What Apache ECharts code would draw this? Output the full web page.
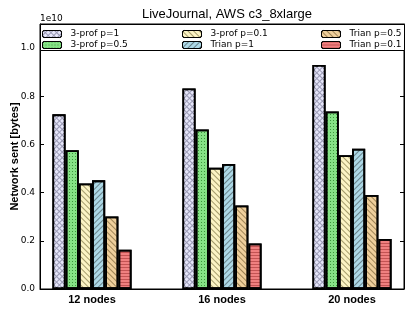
<!DOCTYPE html>
<html>
<head>
<meta charset="utf-8">
<script src="https://cdn.jsdelivr.net/npm/echarts@6/dist/echarts.min.js"></script>
<style>html,body{margin:0;padding:0;background:#fff}#c{width:415px;height:312px}</style>
</head>
<body>
<div id="c"></div>
<script>
// Data (units of 1e10 bytes)
var categories = ['12 nodes', '16 nodes', '20 nodes'];
var seriesNames = ['3-prof p=1', '3-prof p=0.5', '3-prof p=0.1', 'Trian p=1', 'Trian p=0.5', 'Trian p=0.1'];
var prof_p1   = [0.725, 0.832, 0.930];
var prof_p05  = [0.576, 0.662, 0.737];
var prof_p01  = [0.438, 0.503, 0.555];
var trian_p1  = [0.451, 0.519, 0.582];
var trian_p05 = [0.301, 0.347, 0.390];
var trian_p01 = [0.163, 0.189, 0.208];
var yTicks = [0.0, 0.2, 0.4, 0.6, 0.8, 1.0];

// category slots on the x axis: each group sits on every 5th slot (matches the
// reference spacing and side margins)
var SLOTS = 15, FIRST = 2, STEP = 5;
var xSlots = [];
for (var k = 0; k < SLOTS; k++) xSlots.push('');
categories.forEach(function (c, j) { xSlots[FIRST + STEP * j] = c; });

function toSlots(arr) {
  var out = xSlots.map(function () { return '-'; });
  arr.forEach(function (v, j) { out[FIRST + STEP * j] = v; });
  return out;
}

var values = [prof_p1, prof_p05, prof_p01, trian_p1, trian_p05, trian_p01];
var colors = ['#9a9ab4', '#86e286', '#fbf3c4', '#add8e6', '#efcf9c', '#f08080'];
var decals = [
  {symbol: 'rect', symbolSize: 1, dashArrayX: [3, 1], dashArrayY: [3, 1], rotation: Math.PI / 4, color: '#e6e6fa'},
  {symbol: 'rect', symbolSize: 1, dashArrayX: [1, 2], dashArrayY: [1, 2], rotation: 0, color: 'rgba(0,90,0,0.55)'},
  {symbol: 'rect', symbolSize: 1, dashArrayX: [1, 0], dashArrayY: [1, 3], rotation: Math.PI / 4, color: 'rgba(60,50,0,0.45)'},
  {symbol: 'rect', symbolSize: 1, dashArrayX: [1, 0], dashArrayY: [1, 3], rotation: -Math.PI / 4, color: 'rgba(0,0,0,0.4)'},
  {symbol: 'rect', symbolSize: 1, dashArrayX: [1, 0], dashArrayY: [1, 3], rotation: Math.PI / 4, color: 'rgba(60,40,0,0.45)'},
  {symbol: 'rect', symbolSize: 1, dashArrayX: [1, 0], dashArrayY: [1, 2], rotation: 0, color: 'rgba(110,0,0,0.35)'}
];

var series = seriesNames.map(function (name, i) {
  return {
    type: 'bar',
    name: name,
    barWidth: 13.2,
    barGap: '0%',
    data: toSlots(values[i]),
    itemStyle: {color: colors[i], borderColor: '#000', borderWidth: 1.8, decal: decals[i]}
  };
});

var legendCommon = {
  orient: 'vertical', top: 23.5, itemWidth: 19, itemHeight: 7, itemGap: 0, z: 10,
  textStyle: {fontFamily: 'DejaVu Sans', fontSize: 9, color: '#000', lineHeight: 11, padding: [0, 0, 0, 4]},
  itemStyle: {borderColor: '#000', borderWidth: 1},
  selectedMode: false
};

var chart = echarts.init(document.getElementById('c'), null, {renderer: 'canvas'});
chart.setOption({
  animation: false,
  backgroundColor: '#fff',
  title: {
    text: 'LiveJournal, AWS c3_8xlarge', left: 222, textAlign: 'center', top: 3,
    textStyle: {fontFamily: 'Liberation Sans', fontSize: 13, fontWeight: 'normal', color: '#000'}
  },
  grid: {left: 40, right: 11, top: 24, bottom: 23, containLabel: false, outerBoundsMode: 'none',
         show: true, borderColor: '#000', borderWidth: 1, backgroundColor: 'transparent'},
  xAxis: {
    type: 'category', data: xSlots, boundaryGap: false,
    axisLine: {show: true, lineStyle: {color: '#000'}},
    axisTick: {show: false}, splitLine: {show: false},
    axisLabel: {
      interval: 0, margin: 5, fontFamily: 'Liberation Sans', fontWeight: 'bold', fontSize: 11, color: '#000'
    }
  },
  yAxis: [{
    type: 'value', min: 0, max: 1.1, interval: 0.2,
    name: 'Network sent [bytes]', nameLocation: 'middle', nameGap: 20, nameMoveOverlap: false,
    nameTextStyle: {fontFamily: 'Liberation Sans', fontWeight: 'bold', fontSize: 11, color: '#000'},
    axisLine: {show: true, lineStyle: {color: '#000'}},
    axisTick: {show: true, inside: true, length: 4, lineStyle: {color: '#000'}},
    splitLine: {show: false},
    axisLabel: {
      margin: 5, fontFamily: 'DejaVu Sans', fontSize: 9, color: '#000', showMaxLabel: false,
      formatter: function (v) { return yTicks.indexOf(Math.round(v * 10) / 10) >= 0 ? v.toFixed(1) : ''; }
    }
  }, {
    type: 'value', min: 0, max: 1.1, interval: 0.2, position: 'right',
    axisLine: {show: true, lineStyle: {color: '#000'}},
    axisTick: {show: true, inside: true, length: 4, lineStyle: {color: '#000'}},
    splitLine: {show: false}, axisLabel: {show: false}
  }],
  legend: [
    Object.assign({left: 37, data: [seriesNames[0], seriesNames[1]]}, legendCommon),
    Object.assign({left: 177, data: [seriesNames[2], seriesNames[3]]}, legendCommon),
    Object.assign({left: 316, data: [seriesNames[4], seriesNames[5]]}, legendCommon)
  ],
  graphic: [
    {type: 'rect', left: 40, top: 24, z: 3, silent: true, shape: {width: 364, height: 26}, style: {fill: '#fff', stroke: '#000', lineWidth: 1}},
    {type: 'text', left: 40, top: 14, style: {text: '1e10', font: '9px "DejaVu Sans"', fill: '#000'}}
  ],
  series: series
});
</script>
</body>
</html>
